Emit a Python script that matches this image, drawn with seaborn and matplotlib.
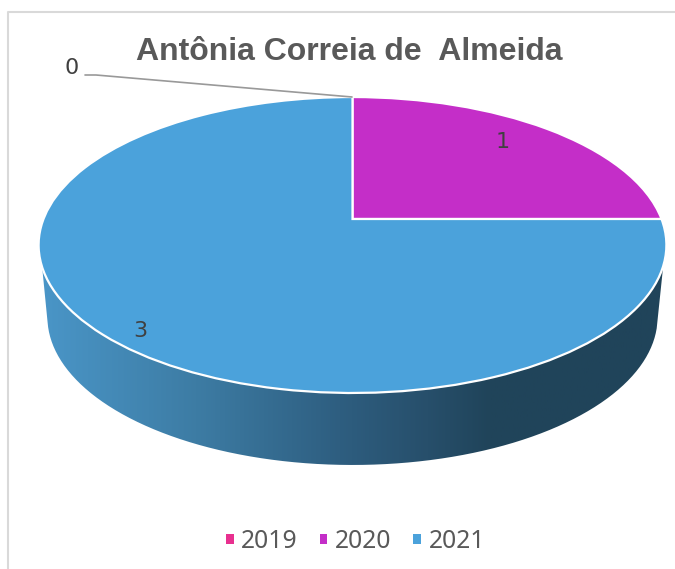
import numpy as np
import matplotlib.pyplot as plt
from matplotlib.colors import LinearSegmentedColormap
from matplotlib.path import Path
from matplotlib.patches import PathPatch
from matplotlib.transforms import Transform
import seaborn as sns

years = ['2019', '2020', '2021']
values = [0, 1, 3]
colors = ['#E8308F', '#C42EC8', '#4BA2DB']
title = 'Antônia Correia de  Almeida'
wall_stops = [0, 0.25, 0.48, 0.62, 0.72, 1]
wall_colors = ['#4A96C8', '#3D7CA4', '#2E5E80', '#274F6B', '#20445A', '#20445A']

sns.set_theme(style='white')
plt.rcParams['font.family'] = ['Noto Sans', 'DejaVu Sans']


class Tilt(Transform):
    # unit circle -> tilted disc in pixel coords, far side squeezed
    input_dims = 2
    output_dims = 2

    def __init__(self, dy=0, sx=1):
        super().__init__()
        self.dy = dy
        self.sx = sx

    def transform_non_affine(self, xy):
        xy = np.asarray(xy, dtype=float)
        w = 1 + 0.1757 * xy[:, 1]
        return np.column_stack([352.5 + self.sx * 309 * xy[:, 0] / w,
                                219 + self.dy - 143.4 * xy[:, 1] / w])


f, ax = plt.subplots(figsize=(6.75, 5.69), dpi=100)
f.subplots_adjust(0, 0, 1, 1)

wedges, _ = ax.pie(values, colors=colors, startangle=90, counterclock=False,
                   wedgeprops=dict(edgecolor='white', linewidth=1.6))
ax.set_aspect('auto')
ax.axis('off')

for w in wedges:
    w.set_transform(Tilt() + ax.transData)
    w.set_zorder(3)

# side wall: top part of the disc + bottom part of a lowered, slightly narrower disc
t = np.linspace(0, 2 * np.pi, 400)
circle = np.column_stack([np.cos(t), np.sin(t)])
top = Tilt().transform(circle)
low = Tilt(dy=72, sx=0.972).transform(circle)
outline = np.vstack([top[top[:, 1] <= 268], low[low[:, 1] >= 322]])
order = np.argsort(np.arctan2(outline[:, 1] - 280, outline[:, 0] - 352.5))
wall_path = Path(outline[order])

cmap = LinearSegmentedColormap.from_list('wall', list(zip(wall_stops, wall_colors)))
img = ax.imshow(np.linspace(0, 1, 256)[None, :], cmap=cmap, extent=(39, 666, 480, 90),
                aspect='auto', zorder=1)
ax.set_xlim(0, 675)
ax.set_ylim(569, 0)
clip = PathPatch(wall_path, transform=ax.transData, facecolor='none', edgecolor='none')
ax.add_patch(clip)
img.set_clip_path(clip)

# chart frame
ax.plot([675, 8, 8], [12, 12, 569], color='#D9D9D9', lw=1.5, zorder=0)

ax.text(349, 52, title, ha='center', va='center', fontsize=23, fontweight='bold',
        family='Liberation Sans', color='#595959')

for v, x, y in zip(values, [72, 503, 140], [68, 142, 331]):
    ax.text(x, y, str(v), ha='center', va='center', fontsize=16, family='DejaVu Sans',
            color='#404040', zorder=5)
ax.plot([85, 96, 352], [75, 75, 97], color='#999999', lw=1.2, zorder=4)

leg = ax.legend(wedges, years, ncol=3, loc='center', bbox_to_anchor=(0.5267, 0.0485), frameon=False,
                fontsize=17.8, labelcolor='#595959', handlelength=0.3, handleheight=0.3,
                handletextpad=0.31, columnspacing=0.89, borderpad=0)
for h in leg.legend_handles:
    h.set_linewidth(0)

plt.savefig('out.png', dpi=100)
